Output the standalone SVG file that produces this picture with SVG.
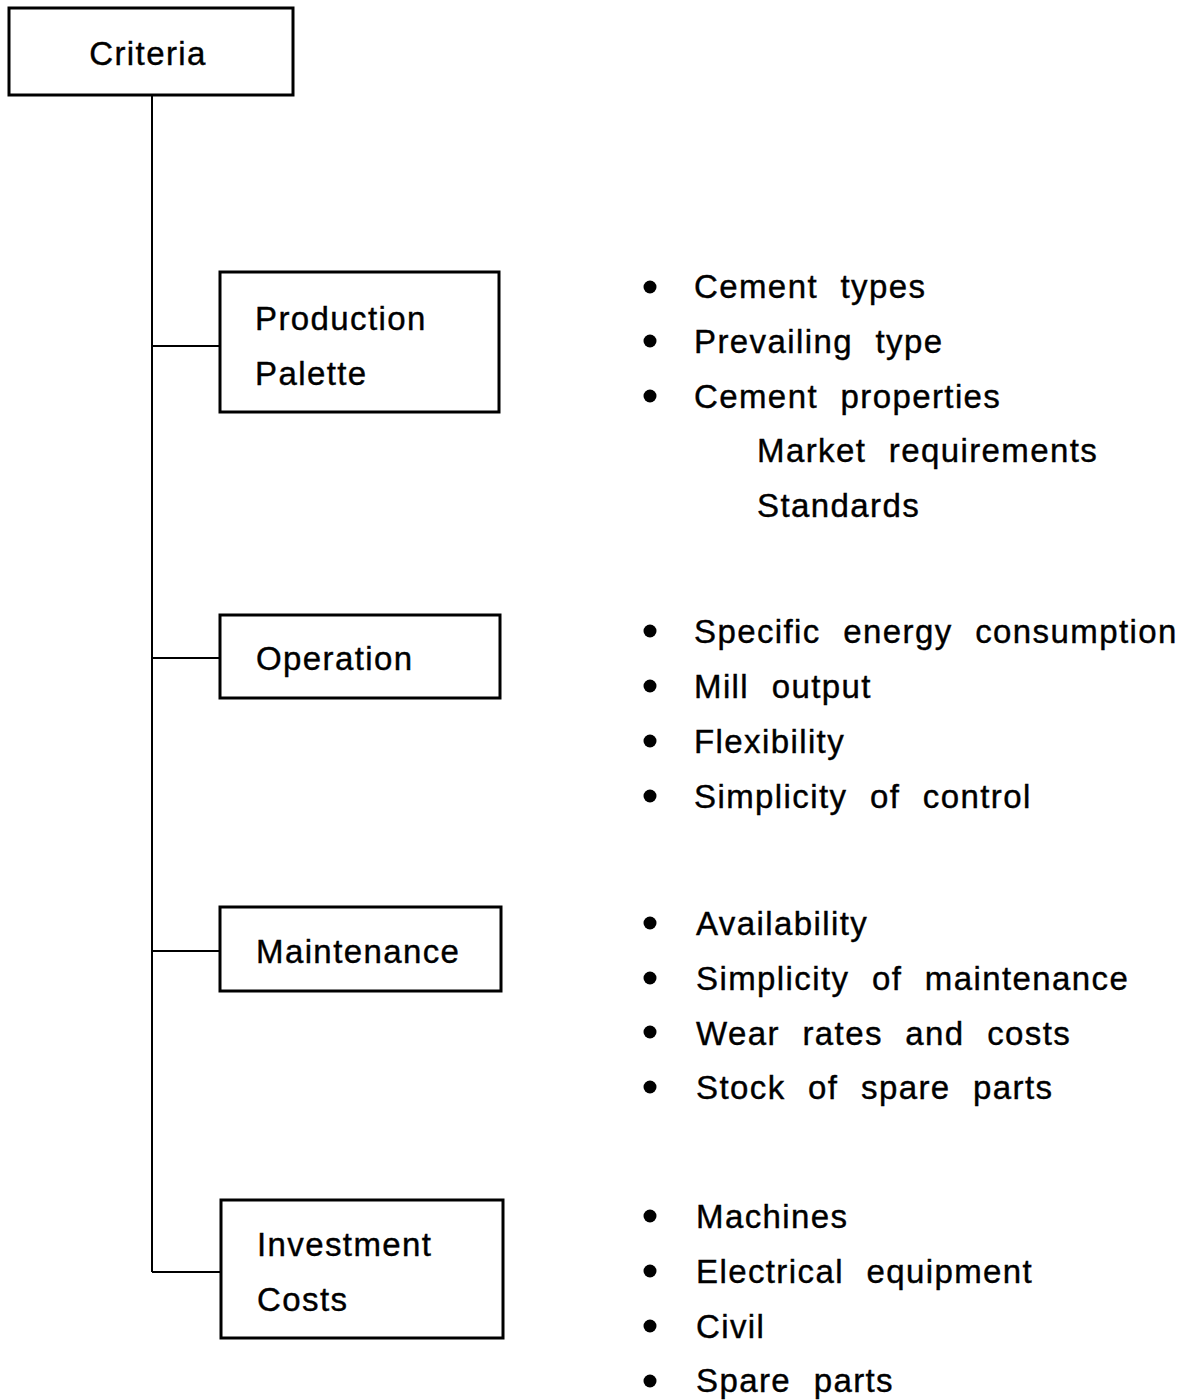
<svg xmlns="http://www.w3.org/2000/svg" width="1190" height="1400" viewBox="0 0 1190 1400">
<style>
.box{fill:#fff;stroke:#000;stroke-width:3}
.conn{fill:none;stroke:#000;stroke-width:2}
text{font-family:"Liberation Sans",Arial,sans-serif;font-size:33px;fill:#000;letter-spacing:1.4px;word-spacing:12px;stroke:#000;stroke-width:0.4px}
.b{fill:#000}
</style>
<rect width="1190" height="1400" fill="#fff"/>
<g id="connectors">
<path class="conn" d="M152,95 V1272 M152,346 H220 M152,658 H220 M152,951 H220 M152,1272 H221"/>
</g>
<g id="criteria">
<rect class="box" x="9" y="8" width="284" height="87"/>
<text x="148" y="65" text-anchor="middle">Criteria</text>
</g>
<g id="production-palette">
<rect class="box" x="220" y="272" width="279" height="140"/>
<text x="255" y="330">Production</text>
<text x="255" y="385">Palette</text>
</g>
<g id="operation">
<rect class="box" x="220" y="615" width="280" height="83"/>
<text x="256" y="670">Operation</text>
</g>
<g id="maintenance">
<rect class="box" x="220" y="907" width="281" height="84"/>
<text x="256" y="963">Maintenance</text>
</g>
<g id="investment-costs">
<rect class="box" x="221" y="1200" width="282" height="138"/>
<text x="257" y="1256">Investment</text>
<text x="257" y="1311">Costs</text>
</g>
<g id="list-production">
<circle class="b" cx="650" cy="287" r="6.5"/><text x="694" y="298">Cement types</text>
<circle class="b" cx="650" cy="341" r="6.5"/><text x="694" y="353">Prevailing type</text>
<circle class="b" cx="650" cy="396" r="6.5"/><text x="694" y="408">Cement properties</text>
<text x="757" y="462">Market requirements</text>
<text x="757" y="517">Standards</text>
</g>
<g id="list-operation">
<circle class="b" cx="650" cy="631" r="6.5"/><text x="694" y="643">Specific energy consumption</text>
<circle class="b" cx="650" cy="686" r="6.5"/><text x="694" y="698">Mill output</text>
<circle class="b" cx="650" cy="741" r="6.5"/><text x="694" y="753">Flexibility</text>
<circle class="b" cx="650" cy="796" r="6.5"/><text x="694" y="808">Simplicity of control</text>
</g>
<g id="list-maintenance">
<circle class="b" cx="650" cy="923" r="6.5"/><text x="696" y="935">Availability</text>
<circle class="b" cx="650" cy="978" r="6.5"/><text x="696" y="990">Simplicity of maintenance</text>
<circle class="b" cx="650" cy="1032" r="6.5"/><text x="696" y="1045">Wear rates and costs</text>
<circle class="b" cx="650" cy="1087" r="6.5"/><text x="696" y="1099">Stock of spare parts</text>
</g>
<g id="list-investment">
<circle class="b" cx="650" cy="1216" r="6.5"/><text x="696" y="1228">Machines</text>
<circle class="b" cx="650" cy="1271" r="6.5"/><text x="696" y="1283">Electrical equipment</text>
<circle class="b" cx="650" cy="1326" r="6.5"/><text x="696" y="1338">Civil</text>
<circle class="b" cx="650" cy="1381" r="6.5"/><text x="696" y="1392">Spare parts</text>
</g>
</svg>
